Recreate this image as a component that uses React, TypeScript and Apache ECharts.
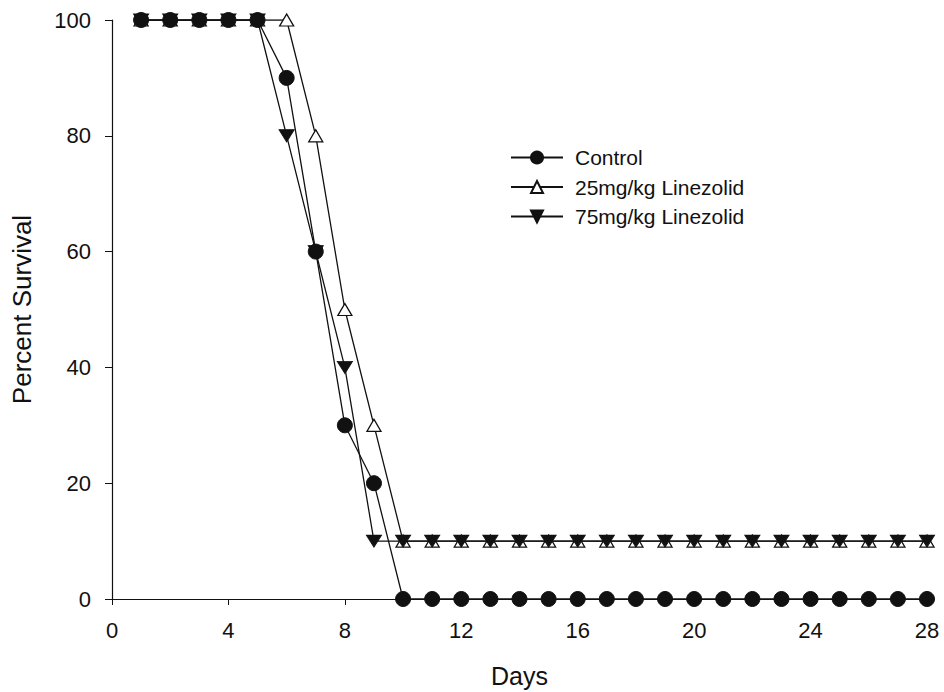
import React, { useEffect, useRef } from "react";
import * as echarts from "echarts";

const days = Array.from({ length: 28 }, (_, i) => i + 1);
const controlValues = [100, 100, 100, 100, 100, 90, 60, 30, 20, 0, 0, 0, 0, 0, 0, 0, 0, 0, 0, 0, 0, 0, 0, 0, 0, 0, 0, 0];
const low25Values = [100, 100, 100, 100, 100, 100, 80, 50, 30, 10, 10, 10, 10, 10, 10, 10, 10, 10, 10, 10, 10, 10, 10, 10, 10, 10, 10, 10];
const high75Values = [100, 100, 100, 100, 100, 80, 60, 40, 10, 10, 10, 10, 10, 10, 10, 10, 10, 10, 10, 10, 10, 10, 10, 10, 10, 10, 10, 10];
const seriesNames = ["Control", "25mg/kg Linezolid", "75mg/kg Linezolid"];

const FONT = "'Liberation Sans', Arial, sans-serif";
const INK = "#111";

export default function App() {
  const ref = useRef<HTMLDivElement>(null);
  useEffect(() => {
    const chart = echarts.init(ref.current!, undefined, { renderer: "svg" });
    const pair = (vals: number[]) => days.map((d, i) => [d, vals[i]]);
    chart.setOption({
      animation: false,
      backgroundColor: "#fff",
      textStyle: { fontFamily: FONT, color: INK },
      grid: { left: 112, right: 17, top: 20, bottom: 93, outerBoundsMode: "none", containLabel: false },
      legend: {
        left: 510,
        top: 147,
        padding: 0,
        orient: "vertical",
        itemWidth: 52,
        itemHeight: 15,
        itemGap: 8.5,
        data: seriesNames,
        textStyle: { fontFamily: FONT, fontSize: 21, lineHeight: 21, color: INK, padding: [0, 0, 0, 7] },
      },
      xAxis: {
        type: "value",
        min: 0,
        max: 28,
        interval: 4,
        name: "Days",
        nameLocation: "middle",
        nameGap: 64,
        nameTextStyle: { fontFamily: FONT, fontSize: 25, color: INK },
        axisLine: { show: true, lineStyle: { color: INK, width: 1.2 } },
        axisTick: { show: true, inside: false, length: 6, lineStyle: { color: INK } },
        axisLabel: { fontFamily: FONT, fontSize: 22, color: INK, margin: 20 },
        splitLine: { show: false },
      },
      yAxis: {
        type: "value",
        min: 0,
        max: 100,
        interval: 20,
        name: "Percent Survival",
        nameLocation: "middle",
        nameGap: 77,
        nameRotate: 90,
        nameTextStyle: { fontFamily: FONT, fontSize: 26, color: INK },
        axisLine: { show: true, lineStyle: { color: INK, width: 1.2 } },
        axisTick: { show: true, inside: false, length: 7, lineStyle: { color: INK } },
        axisLabel: { fontFamily: FONT, fontSize: 22, color: INK, margin: 21 },
        splitLine: { show: false },
      },
      series: [
        {
          name: seriesNames[1],
          type: "line",
          data: pair(low25Values),
          symbol: "triangle",
          symbolSize: [14, 12],
          itemStyle: { color: "#fff", borderColor: INK, borderWidth: 1.3 },
          lineStyle: { color: INK, width: 1.3 },
          z: 2,
        },
        {
          name: seriesNames[2],
          type: "line",
          data: pair(high75Values),
          symbol: "triangle",
          symbolRotate: 180,
          symbolSize: [15, 12],
          itemStyle: { color: INK, borderColor: INK, borderWidth: 1 },
          lineStyle: { color: INK, width: 1.3 },
          z: 3,
        },
        {
          name: seriesNames[0],
          type: "line",
          data: pair(controlValues),
          symbol: "circle",
          symbolSize: 15,
          itemStyle: { color: INK, borderColor: INK, borderWidth: 1 },
          lineStyle: { color: INK, width: 1.3 },
          z: 4,
        },
      ],
    });
    return () => chart.dispose();
  }, []);
  return <div ref={ref} style={{ width: 944, height: 692, position: "absolute", left: 0, top: 0 }} />;
}
